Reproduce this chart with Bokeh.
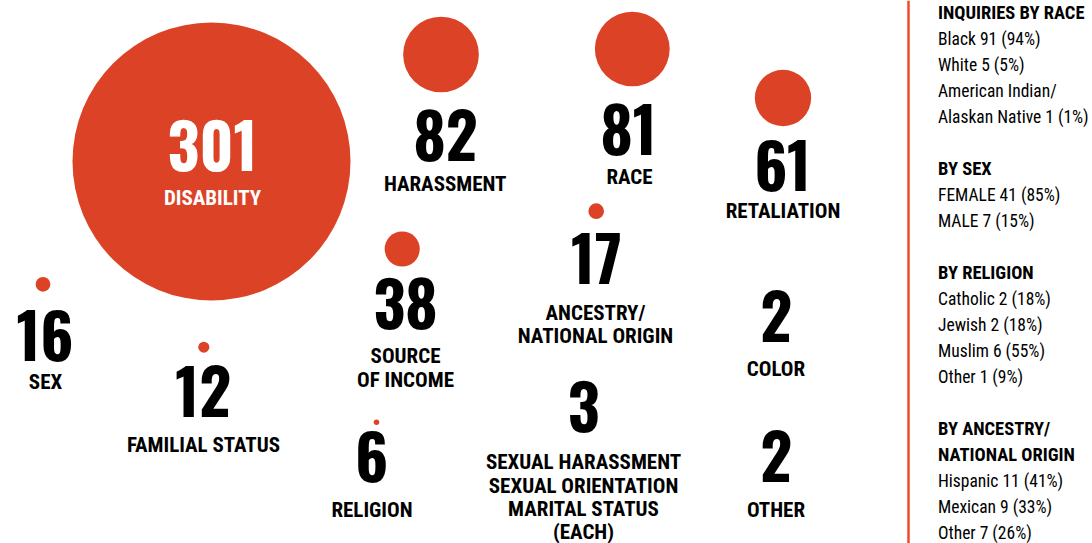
from bokeh.plotting import figure
from bokeh.models import Range1d, ColumnDataSource
from bokeh.core.properties import value
from bokeh.embed import file_html
from bokeh.resources import INLINE

# ---- data ----
categories = ["DISABILITY", "HARASSMENT", "RACE", "RETALIATION",
              "SOURCE\nOF INCOME", "ANCESTRY/\nNATIONAL ORIGIN", "SEX",
              "FAMILIAL STATUS", "RELIGION",
              "SEXUAL HARASSMENT\nSEXUAL ORIENTATION\nMARITAL STATUS\n(EACH)",
              "COLOR", "OTHER"]
counts = [301, 82, 81, 61, 38, 17, 16, 12, 6, 3, 2, 2]
show_bubble = [True, True, True, True, True, True, True, True, True, False, False, False]

panel_lines = ["INQUIRIES BY RACE", "Black 91 (94%)", "White 5 (5%)", "American Indian/",
               "Alaskan Native 1 (1%)", "",
               "BY SEX", "FEMALE 41 (85%)", "MALE 7 (15%)", "",
               "BY RELIGION", "Catholic 2 (18%)", "Jewish 2 (18%)", "Muslim 6 (55%)", "Other 1 (9%)", "",
               "BY ANCESTRY/", "NATIONAL ORIGIN", "Hispanic 11 (41%)", "Mexican 9 (33%)", "Other 7 (26%)"]
panel_heading = [True, False, False, False, False, False,
                 True, False, False, False,
                 True, False, False, False, False, False,
                 True, True, False, False, False]

# ---- layout (pixel positions) ----
W, H = 1092, 543
bubble_x = [211, 440.5, 631.8, 782.5, 401.7, 595.7, 42.5, 203.3, 376, 583, 776, 776]
bubble_y = [161, 54, 48.5, 97.5, 248.5, 210.7, 283.8, 346.7, 421.7, 0, 0, 0]
num_x = [212, 445, 628, 782, 405, 596, 44.5, 202.7, 371.3, 583.3, 775.8, 775.8]
num_base = [175, 165.7, 159, 195, 333, 288.3, 365, 421.7, 486, 436.7, 346, 486.7]
lab_x = [212, 444.7, 629, 782.5, 405, 595, 45, 203, 371.5, 583, 775.5, 775.5]
lab_base = [205, 191, 184, 218, 363.3, 319.7, 389, 451.7, 516.7, 469, 376, 516.7]
LINE_H = 23.4
radius_per_unit = 139.0 / 301.0

RED = "#DC4326"
NUM_FONT = "Oswald"
LAB_FONT = "Roboto Condensed"
NUM_SIZE, LAB_SIZE, HEAD_SIZE, ITEM_SIZE = 62, 21, 18.5, 17.5
# empirical correction of the renderer's baseline placement (fraction of font size)
NUM_SHIFT = 0.49 * NUM_SIZE
LAB_SHIFT = 0.35 * LAB_SIZE
HEAD_SHIFT = 0.40 * HEAD_SIZE
ITEM_SHIFT = 0.40 * ITEM_SIZE

p = figure(width=W, height=H, output_backend="svg", toolbar_location=None,
           x_range=Range1d(0, W), y_range=Range1d(H, 0),
           min_border=0, outline_line_color=None)
p.axis.visible = False
p.grid.visible = False
p.background_fill_color = "white"
p.border_fill_color = "white"

# bubbles (radius proportional to count)
bsrc = ColumnDataSource(dict(
    x=[bx for bx, s in zip(bubble_x, show_bubble) if s],
    y=[by for by, s in zip(bubble_y, show_bubble) if s],
    r=[c * radius_per_unit for c, s in zip(counts, show_bubble) if s],
))
p.circle("x", "y", radius="r", source=bsrc, fill_color=RED, line_color=None)

# numbers
ncolor = ["white" if i == 0 else "black" for i in range(len(counts))]
nsrc = ColumnDataSource(dict(x=num_x, y=[b - NUM_SHIFT for b in num_base],
                             t=[str(c) for c in counts], c=ncolor))
p.text("x", "y", text="t", source=nsrc, text_color="c", text_font=value(NUM_FONT),
       text_font_style="bold", text_font_size=f"{NUM_SIZE}px", text_align="center",
       text_baseline="alphabetic")

# labels
lx, ly, lt, lc = [], [], [], []
for i, cat in enumerate(categories):
    for j, line in enumerate(cat.split("\n")):
        lx.append(lab_x[i])
        ly.append(lab_base[i] + j * LINE_H - LAB_SHIFT)
        lt.append(line)
        lc.append("white" if i == 0 else "black")
lsrc = ColumnDataSource(dict(x=lx, y=ly, t=lt, c=lc))
p.text("x", "y", text="t", source=lsrc, text_color="c", text_font=value(LAB_FONT),
       text_font_style="bold", text_font_size=f"{LAB_SIZE}px", text_align="center",
       text_baseline="alphabetic")

# side panel
p.segment(x0=[908], y0=[0], x1=[908], y1=[H], line_color="#EE4B2B", line_width=2.5)
hx, hy, ht, ix, iy, it = [], [], [], [], [], []
for k, (line, head) in enumerate(zip(panel_lines, panel_heading)):
    if not line:
        continue
    yy = 19.5 + k * 26
    if head:
        hx.append(937.5); hy.append(yy - HEAD_SHIFT); ht.append(line)
    else:
        ix.append(937.5); iy.append(yy - ITEM_SHIFT); it.append(line)
p.text(hx, hy, text=ht, text_color="black", text_font=value(LAB_FONT), text_font_style="bold",
       text_font_size=f"{HEAD_SIZE}px", text_align="left", text_baseline="alphabetic")
p.text(ix, iy, text=it, text_color="black", text_font=value(LAB_FONT), text_font_style="normal",
       text_font_size=f"{ITEM_SIZE}px", text_align="left", text_baseline="alphabetic")

open("out.html", "w").write(file_html(p, INLINE))
